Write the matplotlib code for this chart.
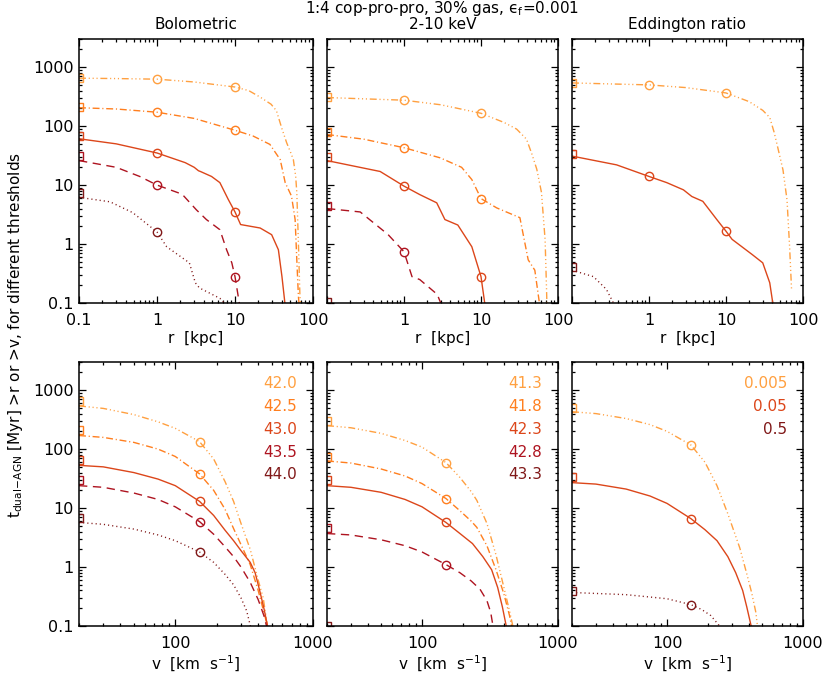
import numpy as np
import matplotlib
matplotlib.use("Agg")
import matplotlib.pyplot as plt
from matplotlib.ticker import LogLocator, NullFormatter, FixedLocator, FixedFormatter

plt.rcParams['font.family'] = ['DejaVu Sans']
plt.rcParams['mathtext.fontset'] = 'dejavusans'

# ---------------- data ----------------
panel_titles = ["Bolometric", "2-10 keV", "Eddington ratio"]
bol_labels = ["42.0", "42.5", "43.0", "43.5", "44.0"]
xray_labels = ["41.3", "41.8", "42.3", "42.8", "43.3"]
edd_labels = ["0.005", "0.05", "0.5"]

# Bolometric vs r
bol_r_42_0 = [0.1, 0.3, 1, 3, 10, 15, 21, 29, 34, 40, 46, 52, 56, 60, 62, 65, 68, 70]
bol_t_42_0 = [650, 640, 625, 560, 460, 400, 310, 235, 182, 90, 52, 35, 27, 14, 7.4, 1.05, 0.13, 0.08]
bol_r_42_5 = [0.1, 0.3, 1, 3, 10, 17, 28, 38, 44, 53, 59, 62, 65, 67]
bol_t_42_5 = [205, 195, 172, 135, 85, 68, 49, 27, 11, 6.5, 2.6, 0.54, 0.13, 0.08]
bol_r_43_0 = [0.1, 0.3, 1, 2.3, 3.0, 3.4, 3.6, 5.0, 6.4, 8.2, 10, 11.8, 21, 29.5, 36, 40, 44]
bol_t_43_0 = [61, 50, 35, 24, 20, 17.5, 17, 14, 11, 5.7, 3.5, 2.14, 1.87, 1.44, 0.8, 0.28, 0.09]
bol_r_43_5 = [0.1, 0.3, 0.6, 1, 2.1, 3.2, 4.3, 6.4, 7.8, 9.1, 10, 11.5]
bol_t_43_5 = [26, 20, 14, 10, 7, 3.8, 2.6, 1.75, 0.8, 0.48, 0.28, 0.09]
bol_r_44_0 = [0.1, 0.25, 0.49, 1, 1.33, 2.6, 3.1, 3.5, 6.4, 7.8]
bol_t_44_0 = [6.2, 5.2, 3.4, 1.6, 0.9, 0.48, 0.22, 0.18, 0.12, 0.09]
bol_total_r = [665, 213, 67, 31, 7.2]

# 2-10 keV vs r
xr_r_41_3 = [0.1, 0.3, 1, 3, 10, 20, 29, 39, 46, 53, 61, 68, 71, 72]
xr_t_41_3 = [305, 290, 275, 230, 165, 115, 89, 60, 33, 18.6, 7.5, 1.18, 0.17, 0.08]
xr_r_41_8 = [0.1, 0.3, 1, 2.94, 5.6, 7.6, 10, 16, 32, 41, 50, 58]
xr_t_41_8 = [72, 60, 43, 29, 20, 12.4, 5.9, 4.1, 2.8, 0.54, 0.36, 0.09]
xr_r_42_3 = [0.1, 0.49, 1, 1.6, 2.66, 3.4, 5.0, 7.6, 10, 11.3]
xr_t_42_3 = [26, 17, 9.6, 6.9, 5.0, 2.6, 2.1, 0.9, 0.28, 0.09]
xr_r_42_8 = [0.1, 0.27, 0.62, 1, 1.27, 1.6, 2.7, 3.1]
xr_t_42_8 = [4.0, 3.5, 1.45, 0.74, 0.28, 0.25, 0.14, 0.09]
xr_r_43_3 = [0.1, 0.15]
xr_t_43_3 = [0.1, 0.07]
xr_total_r = [315, 80, 30, 4.5, 0.105]

# Eddington ratio vs r
ed_r_0005 = [0.1, 0.3, 1, 3, 10, 20, 30, 37, 42, 46, 55, 62, 67, 71]
ed_t_0005 = [540, 520, 500, 450, 365, 260, 185, 140, 80, 49, 18, 5.6, 0.9, 0.17]
ed_r_005 = [0.1, 0.38, 1, 1.7, 2.8, 3.6, 5.0, 7.6, 10, 12, 22, 30, 37, 41]
ed_t_005 = [31, 22, 14, 11, 8.3, 6.4, 5.3, 2.6, 1.65, 1.2, 0.66, 0.48, 0.22, 0.09]
ed_r_05 = [0.1, 0.19, 0.28, 0.36]
ed_t_05 = [0.36, 0.28, 0.17, 0.09]
ed_total_r = [540, 33, 0.4]

# Bolometric vs v
bol_v_42_0 = [20, 30, 50, 75, 100, 150, 190, 230, 265, 300, 350, 400, 435, 470]
bol_tv_42_0 = [540, 490, 385, 290, 225, 134, 68, 28, 13, 5.5, 2.0, 0.6, 0.3, 0.09]
bol_v_42_5 = [20, 30, 50, 75, 100, 150, 190, 230, 265, 300, 350, 400, 450, 470]
bol_tv_42_5 = [170, 158, 130, 100, 75, 38, 20, 9.5, 4.5, 2.4, 1.1, 0.4, 0.14, 0.09]
bol_v_43_0 = [20, 30, 50, 75, 100, 150, 190, 230, 265, 300, 350, 380, 410, 440, 472]
bol_tv_43_0 = [53, 50, 40, 31, 24, 13, 7.5, 4.2, 2.8, 1.9, 1.2, 0.8, 0.4, 0.2, 0.09]
bol_v_43_5 = [20, 30, 50, 75, 100, 150, 190, 230, 265, 300, 350, 400, 440, 465]
bol_tv_43_5 = [24, 22.5, 18, 14, 10.5, 5.9, 3.6, 2.2, 1.5, 1.0, 0.55, 0.28, 0.15, 0.09]
bol_v_44_0 = [20, 30, 50, 75, 100, 150, 190, 230, 265, 300, 330, 355]
bol_tv_44_0 = [5.7, 5.3, 4.4, 3.5, 2.8, 1.8, 1.2, 0.75, 0.5, 0.3, 0.18, 0.09]
bol_total_v = [665, 213, 66, 30, 6.9]

# 2-10 keV vs v
xr_v_41_3 = [20, 30, 50, 75, 100, 150, 190, 230, 253, 300, 350, 400, 440, 470]
xr_tv_41_3 = [250, 230, 185, 140, 108, 59, 33, 19, 13.5, 5.5, 1.6, 0.45, 0.18, 0.09]
xr_v_41_8 = [20, 30, 50, 75, 100, 150, 190, 230, 253, 300, 350, 400, 440, 460]
xr_tv_41_8 = [63, 58, 46, 35, 26, 14.5, 9, 6, 4.7, 2.3, 0.9, 0.35, 0.15, 0.09]
xr_v_42_3 = [20, 30, 50, 75, 100, 150, 190, 235, 280, 325, 360, 390, 420]
xr_tv_42_3 = [24, 22.5, 18.5, 14, 10.5, 5.7, 3.7, 2.5, 1.5, 0.9, 0.45, 0.21, 0.09]
xr_v_42_8 = [20, 30, 50, 75, 100, 150, 190, 230, 267, 300, 320, 335]
xr_tv_42_8 = [3.7, 3.5, 2.9, 2.3, 1.8, 1.1, 0.8, 0.58, 0.42, 0.27, 0.17, 0.09]
xr_v_43_3 = [20, 25]
xr_tv_43_3 = [0.1, 0.08]
xr_total_v = [300, 74, 30, 4.6, 0.1]

# Eddington ratio vs v
ed_v_0005 = [20, 30, 50, 75, 100, 150, 190, 233, 280, 343, 390, 420, 450, 465]
ed_tv_0005 = [430, 400, 330, 260, 200, 117, 60, 24, 8, 2.1, 0.7, 0.36, 0.17, 0.09]
ed_v_005 = [20, 30, 50, 75, 100, 150, 190, 233, 280, 320, 360, 386, 420]
ed_tv_005 = [27, 25.5, 21, 16, 12, 6.6, 4.3, 2.8, 1.5, 0.8, 0.4, 0.21, 0.09]
ed_v_05 = [20, 50, 100, 150, 180, 210, 253]
ed_tv_05 = [0.37, 0.34, 0.29, 0.23, 0.19, 0.15, 0.09]
ed_total_v = [500, 33, 0.39]

r_marks = [1, 10]
v_marks = [150]

# ---------------- styles ----------------
C1, C2, C3, C4, C5 = '#FFA040', '#FF7F1F', '#DC461A', '#AE1420', '#801818'
LS1 = (0, (5, 2, 0.8, 2, 0.8, 2, 0.8, 2))
LS2 = (0, (5, 2, 0.8, 2))
LS3 = '-'
LS4 = (0, (6, 4))
LS5 = (0, (0.8, 2.2))
five_colors = [C1, C2, C3, C4, C5]
five_styles = [LS1, LS2, LS3, LS4, LS5]
edd_colors = [C1, C3, C5]
edd_styles = [LS1, LS3, LS5]

panels = [
    (0, 0, [(bol_r_42_0, bol_t_42_0), (bol_r_42_5, bol_t_42_5), (bol_r_43_0, bol_t_43_0),
            (bol_r_43_5, bol_t_43_5), (bol_r_44_0, bol_t_44_0)], bol_total_r, r_marks,
     five_colors, five_styles, None),
    (0, 1, [(xr_r_41_3, xr_t_41_3), (xr_r_41_8, xr_t_41_8), (xr_r_42_3, xr_t_42_3),
            (xr_r_42_8, xr_t_42_8), (xr_r_43_3, xr_t_43_3)], xr_total_r, r_marks,
     five_colors, five_styles, None),
    (0, 2, [(ed_r_0005, ed_t_0005), (ed_r_005, ed_t_005), (ed_r_05, ed_t_05)], ed_total_r, r_marks,
     edd_colors, edd_styles, None),
    (1, 0, [(bol_v_42_0, bol_tv_42_0), (bol_v_42_5, bol_tv_42_5), (bol_v_43_0, bol_tv_43_0),
            (bol_v_43_5, bol_tv_43_5), (bol_v_44_0, bol_tv_44_0)], bol_total_v, v_marks,
     five_colors, five_styles, bol_labels),
    (1, 1, [(xr_v_41_3, xr_tv_41_3), (xr_v_41_8, xr_tv_41_8), (xr_v_42_3, xr_tv_42_3),
            (xr_v_42_8, xr_tv_42_8), (xr_v_43_3, xr_tv_43_3)], xr_total_v, v_marks,
     five_colors, five_styles, xray_labels),
    (1, 2, [(ed_v_0005, ed_tv_0005), (ed_v_005, ed_tv_005), (ed_v_05, ed_tv_05)], ed_total_v, v_marks,
     edd_colors, edd_styles, edd_labels),
]

W, H = 830, 677
fig = plt.figure(figsize=(W / 100, H / 100), dpi=100)
col_px = [(79, 234), (327, 231), (572, 231)]
row_px = [(39, 303), (362, 626)]

def loginterp(x0, xs, ys):
    return 10 ** np.interp(np.log10(x0), np.log10(xs), np.log10(ys))

FS = 11
TFS = 11.5
for (row, col, curves, totals, marks, colors, styles, labels) in panels:
    x0, w = col_px[col]
    y0, y1 = row_px[row]
    ax = fig.add_axes([x0 / W, 1 - y1 / H, w / W, (y1 - y0) / H])
    ax.set_xscale('log')
    ax.set_yscale('log')
    if row == 0:
        xmin, xmax = 0.1, 100
    else:
        xmin, xmax = 20, 1000
    ax.set_xlim(xmin, xmax)
    ax.set_ylim(0.1, 3000)
    for (xs, ts), c, ls, tot in zip(curves, colors, styles, totals):
        ax.plot(xs, ts, color=c, ls=ls, lw=1.0)
        ax.plot([xmin], [tot], marker='s', ms=5.5, mfc='none', mec=c, mew=1.0, ls='none')
        for m in marks:
            if xs[0] <= m <= xs[-1]:
                tv = loginterp(m, xs, ts)
                if tv > 0.1:
                    ax.plot([m], [tv], marker='o', ms=6, mfc='none', mec=c, mew=1.0, ls='none')
    ax.tick_params(which='both', direction='in', top=True, right=True, labelsize=TFS, width=0.9)
    ax.tick_params(which='major', length=5, pad=7)
    ax.tick_params(which='minor', length=2.5)
    ax.tick_params(axis='y', which='major', pad=4)
    ax.yaxis.set_major_locator(FixedLocator([0.1, 1, 10, 100, 1000]))
    ax.yaxis.set_minor_locator(LogLocator(base=10, subs=np.arange(2, 10)))
    ax.yaxis.set_minor_formatter(NullFormatter())
    if col == 0:
        ax.yaxis.set_major_formatter(FixedFormatter(['0.1', '1', '10', '100', '1000']))
    else:
        ax.yaxis.set_major_formatter(NullFormatter())
    ax.xaxis.set_minor_locator(LogLocator(base=10, subs=np.arange(2, 10)))
    ax.xaxis.set_minor_formatter(NullFormatter())
    if row == 0:
        ax.xaxis.set_major_locator(FixedLocator([0.1, 1, 10, 100]))
        if col == 0:
            ax.xaxis.set_major_formatter(FixedFormatter(['0.1', '1', '10', '100']))
        else:
            ax.xaxis.set_major_formatter(FixedFormatter(['', '1', '10', '100']))
        ax.set_xlabel('r  [kpc]', fontsize=FS, labelpad=2)
        ax.set_title(panel_titles[col], fontsize=FS, pad=7)
    else:
        ax.xaxis.set_major_locator(FixedLocator([100, 1000]))
        ax.xaxis.set_major_formatter(FixedFormatter(['100', '1000']))
        ax.set_xlabel(r'v  [km  s$^{-1}$]', fontsize=FS, labelpad=2)
    for sp in ax.spines.values():
        sp.set_linewidth(1.1)
    if labels is not None:
        for i, (lab, c) in enumerate(zip(labels, colors)):
            ax.text(1 - 16 / w, 0.92 - i * 0.087, lab, color=c, fontsize=FS,
                    ha='right', va='center', transform=ax.transAxes)

fig.text(442.5 / W, 1 - 8 / H, '1:4 cop-pro-pro, 30% gas, \u03f5$_{\\rm f}$=0.001',
         fontsize=FS, ha='center', va='center')
fig.text(16 / W, 1 - 335 / H,
         r't$_{\rm dual\!-\!AGN}$ [Myr] >r or >v, for different thresholds',
         fontsize=FS, rotation=90, ha='center', va='center')

fig.savefig('out.png', dpi=100)
